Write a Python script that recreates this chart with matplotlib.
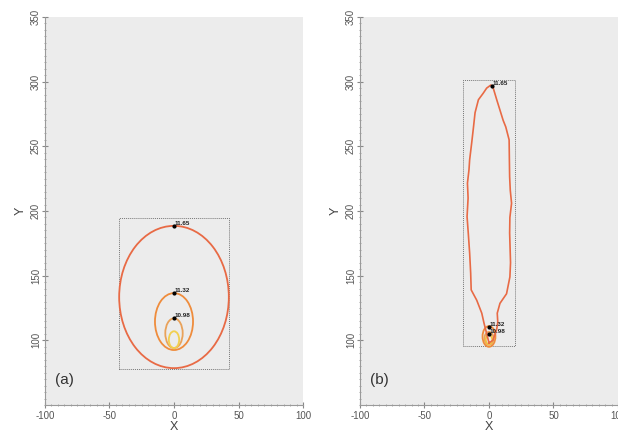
import matplotlib
matplotlib.use("Agg")
import matplotlib.pyplot as plt
from matplotlib.patches import Ellipse, Rectangle
from matplotlib.ticker import MultipleLocator

plt.rcParams['font.family'] = ['Liberation Sans', 'DejaVu Sans']
plt.rcParams['axes.unicode_minus'] = False

# panel (a): contour ellipses
a_cx = [0, 0, 0, 0]
a_cy = [133.5, 114.5, 105.5, 100.5]
a_w = [85, 29.5, 13.5, 8]       # full widths
a_h = [110, 44, 23, 13]         # full heights
a_colors = ['#e86a45', '#ef8c3c', '#e9a25a', '#f2d050']
a_labels = ['11.65', '11.32', '10.98']
a_label_y = [188.5, 136.5, 117]
a_box = (-43, 78, 86, 116.5)    # x, y, width, height

# panel (b): elongated outer contour
b_x = [0, -2, -3.8, -5.6, -9.5, -13.8, -14.2, -15, -16, -17, -16.2, -16.7, -15.5, -15, -13.3,
       -12, -10.8, -8.2, -4.5, -1.8, 1.5, 3.3, 6, 8.5, 11, 13, 15.6, 15.8, 16, 16.5, 17.5,
       16.2, 16, 16.7, 16.2, 13.6, 8.5, 6.4, 6.8, 5.9, 3, 0]
b_y = [98, 106, 113, 121, 131, 139, 152, 167.5, 182, 195.6, 210, 221.5, 232, 239.5, 253.6,
       265, 276, 286, 291, 295, 297.4, 295, 286, 278, 270, 265, 255, 240, 226.5, 216, 206,
       195, 183, 160, 149, 136, 128.6, 121, 114, 108, 100, 98]
b_cx = [0, 0, 0]
b_cy = [103, 101.5, 100.5]
b_w = [10, 7, 5]
b_h = [16, 10, 7]
b_colors = ['#ef8c3c', '#e9a25a', '#f2c040']
b_labels = ['11.65', '11.32', '10.98']
b_label_x = [2, 0, 0]
b_label_y = [297, 110, 105]
b_box = (-20, 95.5, 40.5, 205.5)

fig = plt.figure(figsize=(6.18, 4.37), dpi=100, facecolor='white')
ax_a = fig.add_axes([0.0728, 0.0732, 0.4175, 0.888])
ax_b = fig.add_axes([0.5825, 0.0732, 0.4175, 0.888])


def style_axes(ax, tag):
    ax.set_xlim(-100, 100)
    ax.set_ylim(50, 350)
    ax.set_facecolor('#ececec')
    for s in ['top', 'right']:
        ax.spines[s].set_visible(False)
    for s in ['left', 'bottom']:
        ax.spines[s].set_color('#9a9a9a')
        ax.spines[s].set_linestyle((0, (1, 1)))
        ax.spines[s].set_linewidth(0.8)
    ax.xaxis.set_minor_locator(MultipleLocator(5))
    ax.yaxis.set_minor_locator(MultipleLocator(5))
    ax.tick_params(which='major', direction='inout', length=4, width=0.8,
                   color='#888888', labelsize=7, labelcolor='#555555')
    ax.tick_params(axis='x', which='major', pad=2)
    ax.tick_params(axis='y', which='major', pad=1)
    ax.tick_params(which='minor', direction='inout', length=2, width=0.6, color='#999999')
    ax.set_yticks([100, 150, 200, 250, 300, 350])
    ax.set_yticklabels(['100', '150', '200', '250', '300', '350'], rotation=90, va='center')
    ax.set_xticks([-100, -50, 0, 50, 100])
    ax.set_xlabel('X', fontsize=9, color='#444444', labelpad=0)
    ax.set_ylabel('Y', fontsize=9, color='#444444', labelpad=3)
    ax.text(0.04, 0.055, tag, transform=ax.transAxes, fontsize=11, color='#333333')


style_axes(ax_a, '(a)')
style_axes(ax_b, '(b)')

# panel (a)
bx, by, bw, bh = a_box
ax_a.add_patch(Rectangle((bx, by), bw, bh, fill=False, ec='#777777', lw=0.7,
                         ls=(0, (1, 1))))
for cx, cy, w, h, c in zip(a_cx, a_cy, a_w, a_h, a_colors):
    ax_a.add_patch(Ellipse((cx, cy), w, h, fill=False, ec=c, lw=1.3))
for lab, ly in zip(a_labels, a_label_y):
    ax_a.plot(0, ly, 'o', ms=2, color='black')
    ax_a.text(0.5, ly, lab, fontsize=4.5, fontweight='bold', color='#222222',
              ha='left', va='bottom')

# panel (b)
bx, by, bw, bh = b_box
ax_b.add_patch(Rectangle((bx, by), bw, bh, fill=False, ec='#777777', lw=0.7,
                         ls=(0, (1, 1))))
ax_b.plot(b_x, b_y, color='#e86a45', lw=1.2)
for cx, cy, w, h, c in zip(b_cx, b_cy, b_w, b_h, b_colors):
    ax_b.add_patch(Ellipse((cx, cy), w, h, fill=False, ec=c, lw=1.3))
for lab, lx, ly in zip(b_labels, b_label_x, b_label_y):
    ax_b.plot(lx, ly, 'o', ms=2, color='black')
    ax_b.text(lx + 0.5, ly, lab, fontsize=4.5, fontweight='bold', color='#222222',
              ha='left', va='bottom')

fig.savefig('out.png', dpi=100, facecolor='white')
